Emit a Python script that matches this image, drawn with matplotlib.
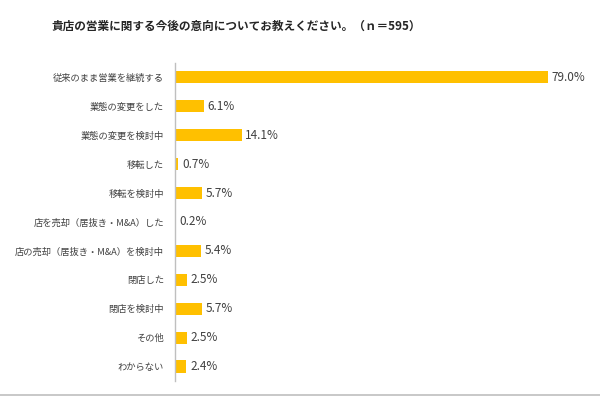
import matplotlib.pyplot as plt
from matplotlib.lines import Line2D

plt.rcParams['font.family'] = ['Noto Sans CJK JP', 'DejaVu Sans']

# データ
categories = [
    "従来のまま営業を継続する",
    "業態の変更をした",
    "業態の変更を検討中",
    "移転した",
    "移転を検討中",
    "店を売却（居抜き・M&A）した",
    "店の売却（居抜き・M&A）を検討中",
    "閉店した",
    "閉店を検討中",
    "その他",
    "わからない",
]
values = [79.0, 6.1, 14.1, 0.7, 5.7, 0.2, 5.4, 2.5, 5.7, 2.5, 2.4]
title = "貴店の営業に関する今後の意向についてお教えください。（ｎ＝595）"

fig = plt.figure(figsize=(6, 3.96), dpi=100)
ax = fig.add_axes([0.2917, 0.038, 0.68, 0.803])

pos = list(range(len(categories)))
ax.barh(pos, values, height=0.42, color="#FFC000")
for p, v in zip(pos, values):
    ax.text(v + 0.8, p, f"{v:.1f}%", va="center", ha="left",
            fontsize=8.5, color="#404040")

ax.set_xlim(0, 86.4)
ax.set_ylim(len(categories) - 0.5, -0.5)
ax.set_yticks(pos)
ax.set_yticklabels(categories, fontsize=6.7, color="#404040")
ax.tick_params(axis="y", length=0, pad=8)
ax.set_xticks([])
for s in ["top", "right", "bottom"]:
    ax.spines[s].set_visible(False)
ax.spines["left"].set_color("#BFBFBF")
ax.spines["left"].set_linewidth(1.0)

fig.text(0.085, 0.934, title, fontsize=8.4, fontweight="bold",
         color="#262626", va="center", ha="left")

# 下の枠線
fig.add_artist(Line2D([0, 1], [0.003, 0.003], color="#BFBFBF", lw=1.2))

fig.savefig("out.png", dpi=100)
